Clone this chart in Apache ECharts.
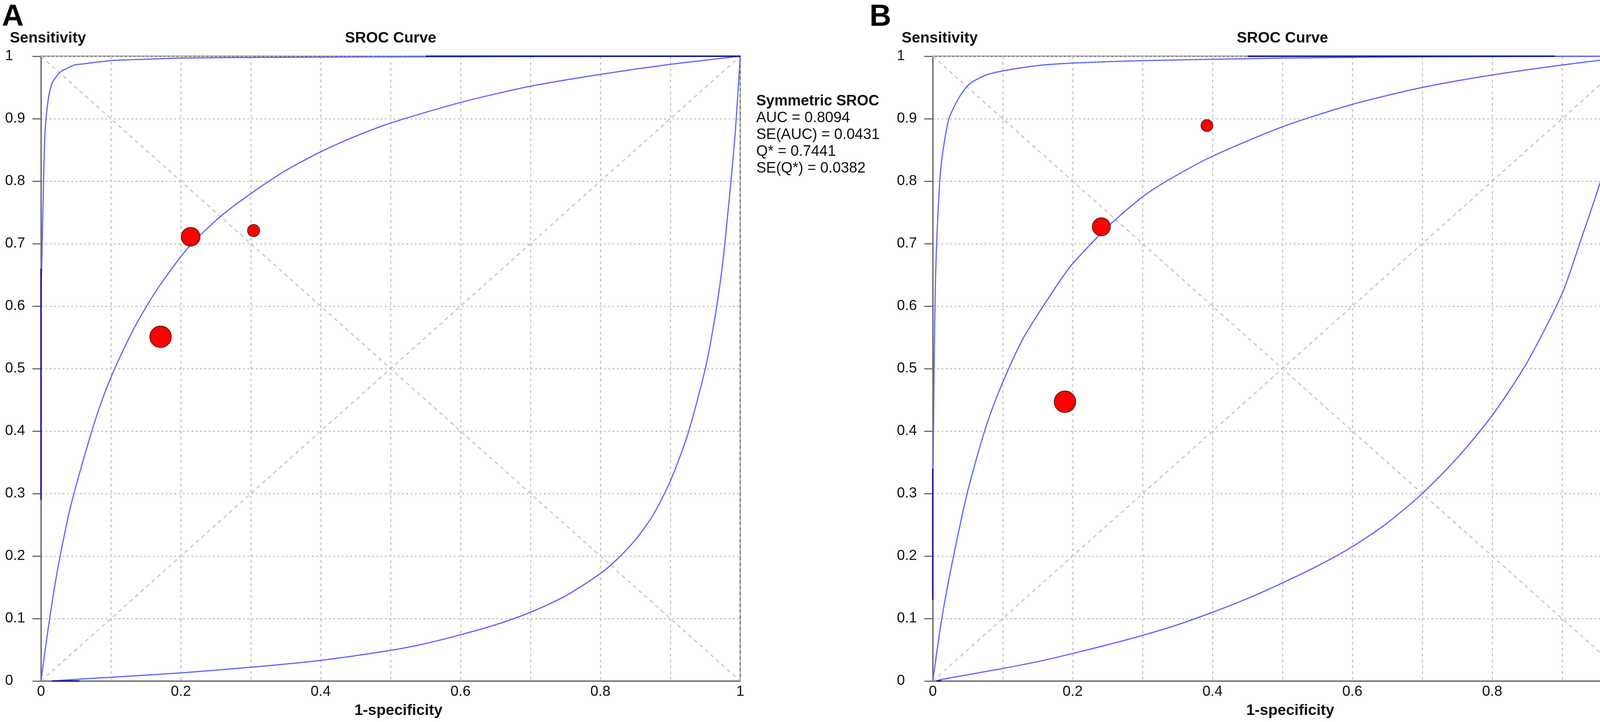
<!DOCTYPE html>
<html>
<head>
<meta charset="utf-8">
<title>SROC Curve</title>
<script src="https://cdn.jsdelivr.net/npm/echarts@6/dist/echarts.min.js"></script>
<style>
  html, body { margin: 0; padding: 0; background: #fff; }
  #chart { width: 4550px; height: 1849px; }
</style>
</head>
<body>
<div id="chart"></div>
<script>
// values (x = 1-specificity, y = sensitivity)
const tickLabels = ['0', '0.2', '0.4', '0.6', '0.8', '1'];

const studiesA = [[0.171, 0.551], [0.214, 0.711], [0.304, 0.721]];
const weightsA = [1.0, 0.87, 0.56];
const studiesB = [[0.189, 0.447], [0.241, 0.727], [0.392, 0.889]];
const weightsB = [1.0, 0.84, 0.55];

const srocA = [[0, 0], [0.005, 0.042], [0.01, 0.082], [0.02, 0.155], [0.03, 0.215], [0.042, 0.278],
  [0.06, 0.352], [0.08, 0.426], [0.1, 0.486], [0.13, 0.558], [0.15, 0.598], [0.171, 0.635],
  [0.21, 0.693], [0.255, 0.742], [0.3, 0.78], [0.35, 0.817], [0.4, 0.847], [0.45, 0.872],
  [0.5, 0.893], [0.6, 0.926], [0.7, 0.952], [0.8, 0.971], [0.9, 0.987], [1, 1]];
const upperA = [[0, 0.29], [0.0003, 0.62], [0.0015, 0.69], [0.003, 0.77], [0.0056, 0.875], [0.0102, 0.93],
  [0.0158, 0.957], [0.023, 0.969], [0.029, 0.976], [0.038, 0.981], [0.0475, 0.986], [0.062, 0.988],
  [0.1, 0.993], [0.146, 0.995], [0.2, 0.997], [0.3, 0.998], [0.5, 0.999], [1, 1]];
const lowerA = [[0.016, 0], [0.055, 0.003], [0.1, 0.006], [0.2, 0.013], [0.3, 0.022], [0.4, 0.033],
  [0.5, 0.049], [0.55, 0.06], [0.6, 0.074], [0.65, 0.09], [0.7, 0.11], [0.75, 0.136], [0.8, 0.172],
  [0.825, 0.196], [0.85, 0.226], [0.875, 0.265], [0.9, 0.32], [0.925, 0.395], [0.95, 0.5],
  [0.965, 0.59], [0.975, 0.67], [0.985, 0.78], [0.993, 0.88], [1, 1]];

const srocB = [[0, 0], [0.0114, 0.09], [0.0225, 0.16], [0.0356, 0.232], [0.0486, 0.298], [0.0635, 0.36],
  [0.0784, 0.415], [0.1, 0.478], [0.13, 0.55], [0.1743, 0.628], [0.2, 0.668], [0.254, 0.731],
  [0.3, 0.775], [0.334, 0.8], [0.4, 0.84], [0.5, 0.887], [0.6, 0.923], [0.7, 0.95], [0.8, 0.97],
  [0.9, 0.986], [1, 1]];
const upperB = [[0, 0.13], [0.0003, 0.33], [0.0012, 0.42], [0.002, 0.52], [0.0039, 0.645], [0.0058, 0.71],
  [0.0086, 0.775], [0.0114, 0.82], [0.016, 0.859], [0.0225, 0.898], [0.03, 0.918], [0.041, 0.94],
  [0.054, 0.957], [0.0765, 0.97], [0.1026, 0.977], [0.15, 0.985], [0.2, 0.989], [0.3, 0.993],
  [0.5, 0.997], [0.7, 0.999], [1, 1]];
const lowerB = [[0.005, 0], [0.011, 0.002], [0.05, 0.01], [0.1, 0.02], [0.15, 0.031], [0.2, 0.044],
  [0.25, 0.058], [0.3, 0.073], [0.35, 0.09], [0.4, 0.11], [0.45, 0.132], [0.5, 0.157], [0.55, 0.184],
  [0.6, 0.215], [0.65, 0.253], [0.7, 0.3], [0.75, 0.357], [0.8, 0.425], [0.85, 0.51], [0.9, 0.62],
  [0.926, 0.703], [0.955, 0.8], [0.9745, 0.879], [1, 1]];

// stretches where a curve lies on the frame and shows dark blue
const overlapA = [[[0, 0.29], [0, 0.66]], [[0.55, 1], [1, 1]], [[0.016, 0], [0.055, 0]]];
const overlapB = [[[0, 0.13], [0, 0.34]], [[0.45, 1], [0.89, 1]], [[0.005, 0], [0.012, 0]]];

const chanceLine = [[0, 0], [1, 1]];
const qLine = [[0, 1], [1, 0]];

const statsA = ['AUC = 0.8094', 'SE(AUC) = 0.0431', 'Q* = 0.7441', 'SE(Q*) = 0.0382'];
const statsB = ['AUC = 0.8041', 'SE(AUC) = 0.0326', 'Q* = 0.7395', 'SE(Q*) = 0.0286'];

const FONT = '"Liberation Sans", Arial, sans-serif';
const AXIS_GRAY = '#6a6a6a';
const GRID_GRAY = '#c6c6c6';
const CURVE_BLUE = '#6262ff';
const OVERLAP_BLUE = '#1e1e96';
const PLOT_W = 1790, PLOT_H = 1600, PLOT_TOP = 144;
const lefts = [105, 2388];

function xAxisFor(i) {
  return {
    type: 'value', gridIndex: i, min: 0, max: 1, interval: 0.1,
    axisLine: { lineStyle: { color: AXIS_GRAY, width: 3 } },
    axisTick: { show: false },
    axisLabel: {
      fontSize: 37, fontFamily: FONT, color: '#111', margin: 9,
      formatter: v => {
        const k = Math.round(v * 10);
        return k % 2 === 0 ? tickLabels[k / 2] : '';
      }
    },
    splitLine: { lineStyle: { color: GRID_GRAY, width: 3, type: [7, 8] } }
  };
}

function yAxisFor(i) {
  return {
    type: 'value', gridIndex: i, min: 0, max: 1, interval: 0.1,
    axisLine: { lineStyle: { color: AXIS_GRAY, width: 3 } },
    axisTick: { show: true, length: 22, lineStyle: { color: AXIS_GRAY, width: 3 } },
    axisLabel: {
      fontSize: 37, fontFamily: FONT, color: '#111', align: 'left', margin: 92,
      formatter: v => String(+v.toFixed(1))
    },
    splitLine: { lineStyle: { color: GRID_GRAY, width: 3, type: [5, 6] } }
  };
}

function refLine(data, i) {
  return {
    type: 'line', xAxisIndex: i, yAxisIndex: i, data: data, symbol: 'none', silent: true,
    lineStyle: { color: GRID_GRAY, width: 3, type: [10, 9] }
  };
}

function curve(data, i) {
  return {
    type: 'line', xAxisIndex: i, yAxisIndex: i, data: data, symbol: 'none', smooth: 0.25,
    lineStyle: { color: CURVE_BLUE, width: 3 }
  };
}

function overlaps(segs, i) {
  return segs.map(seg => ({
    type: 'line', xAxisIndex: i, yAxisIndex: i, data: seg, symbol: 'none', silent: true, z: 3,
    lineStyle: { color: OVERLAP_BLUE, width: 4 }
  }));
}

function studies(data, weights, i) {
  return {
    type: 'scatter', xAxisIndex: i, yAxisIndex: i, z: 5,
    data: data.map((p, k) => ({ value: p, symbolSize: 55 * weights[k] })),
    itemStyle: { color: '#ff0000', borderColor: '#5a1010', borderWidth: 2, opacity: 1 }
  };
}

function panelText(label, i, stats) {
  const left = lefts[i];
  const right = left + PLOT_W;
  const els = [
    { type: 'text', x: left - 100 - (i ? 62 : 0), y: 6,
      style: { text: label, font: 'bold 77px ' + FONT, fill: '#000', align: 'left', verticalAlign: 'top' } },
    { type: 'text', x: left - 80, y: 98,
      style: { text: 'Sensitivity', font: 'bold 39px ' + FONT, fill: '#111', align: 'left', verticalAlign: 'middle' } },
    { type: 'text', x: left + PLOT_W / 2, y: 98,
      style: { text: 'SROC Curve', font: 'bold 39px ' + FONT, fill: '#111', align: 'center', verticalAlign: 'middle' } },
    { type: 'text', x: left + 915, y: 1820,
      style: { text: '1-specificity', font: 'bold 39px ' + FONT, fill: '#111', align: 'center', verticalAlign: 'middle' } },
    { type: 'text', x: right + 41, y: 260,
      style: { text: 'Symmetric SROC', font: 'bold 38px ' + FONT, fill: '#111', align: 'left', verticalAlign: 'middle' } }
  ];
  stats.forEach((s, k) => {
    els.push({ type: 'text', x: right + 41, y: 303 + 43 * k,
      style: { text: s, font: '38px ' + FONT, fill: '#111', align: 'left', verticalAlign: 'middle' } });
  });
  return els;
}

const chart = echarts.init(document.getElementById('chart'), null, { renderer: 'canvas' });
chart.setOption({
  backgroundColor: '#fff',
  animation: false,
  grid: lefts.map(l => ({
    left: l, top: PLOT_TOP, width: PLOT_W, height: PLOT_H,
    show: true, borderColor: AXIS_GRAY, borderWidth: 3, backgroundColor: 'transparent'
  })),
  xAxis: [xAxisFor(0), xAxisFor(1)],
  yAxis: [yAxisFor(0), yAxisFor(1)],
  series: [
    refLine(chanceLine, 0), refLine(qLine, 0),
    curve(srocA, 0), curve(upperA, 0), curve(lowerA, 0)
  ].concat(overlaps(overlapA, 0), [
    studies(studiesA, weightsA, 0),
    refLine(chanceLine, 1), refLine(qLine, 1),
    curve(srocB, 1), curve(upperB, 1), curve(lowerB, 1)
  ], overlaps(overlapB, 1), [
    studies(studiesB, weightsB, 1)
  ]),
  graphic: panelText('A', 0, statsA).concat(panelText('B', 1, statsB))
});
</script>
</body>
</html>
